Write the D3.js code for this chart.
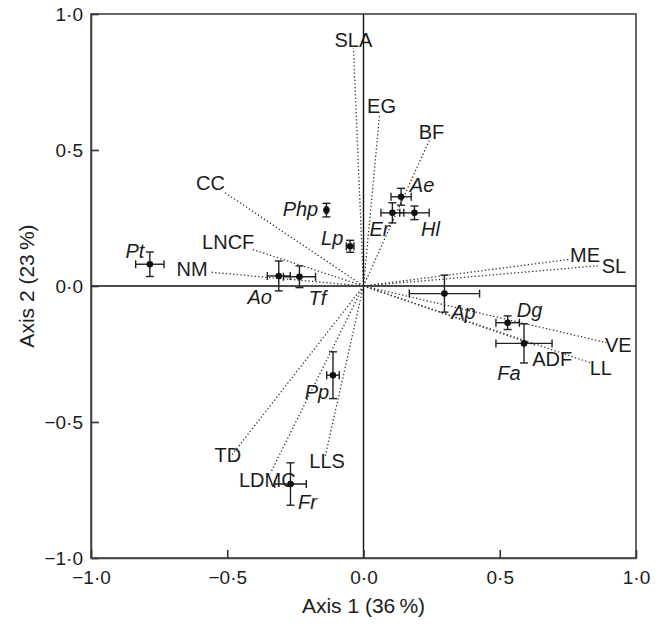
<!DOCTYPE html>
<html lang="en">
  <head>
    <meta charset="utf-8">
    <script src="https://d3js.org/d3.v7.min.js"></script>
    <title>PCA biplot</title>
    <style>
      body { margin: 0; background: #fff; }
      text { font-family: "Liberation Sans", Arial, Helvetica, sans-serif; fill: #1c1c1c; }
    </style>
  </head>
  <body>
    <svg id="chart"></svg>

    <script type="text/javascript">

     // species scores (mean and SE on both axes)
     var species = ["Pt", "Ao", "Tf", "Php", "Lp", "Er", "Ae", "Hl", "Ap", "Dg", "Fa", "Pp", "Fr"];
     var spX    = [-0.784, -0.311, -0.235, -0.136, -0.049, 0.106, 0.138, 0.187, 0.297, 0.529, 0.589, -0.112, -0.268];
     var spY    = [0.080, 0.037, 0.034, 0.279, 0.146, 0.269, 0.328, 0.269, -0.028, -0.135, -0.211, -0.328, -0.728];
     var spErrX = [0.052, 0.042, 0.059, 0.004, 0.014, 0.042, 0.037, 0.054, 0.129, 0.043, 0.103, 0.023, 0.058];
     var spErrY = [0.045, 0.055, 0.040, 0.025, 0.022, 0.037, 0.031, 0.025, 0.068, 0.025, 0.072, 0.086, 0.078];

     // trait vectors
     var traits = ["SLA", "EG", "BF", "CC", "LNCF", "NM", "ME", "SL", "VE", "LL", "ADF", "TD", "LDMC", "LLS"];
     var trX    = [-0.037, 0.059, 0.242, -0.514, -0.412, -0.563, 0.758, 0.868, 0.891, 0.838, 0.630, -0.483, -0.342, -0.141];
     var trY    = [0.874, 0.629, 0.537, 0.347, 0.136, 0.051, 0.098, 0.075, -0.208, -0.284, -0.217, -0.621, -0.689, -0.628];

     var tickValues = [-1, -0.5, 0, 0.5, 1];

     // label offsets in pixels (centre of capitals relative to the point / vector end)
     var spLabelOff = {
       Pt: [-15, -13], Ao: [-19, 21], Tf: [18, 21], Php: [-26, -1], Lp: [-18, -8],
       Er: [-13, 16], Ae: [21, -12], Hl: [16, 16], Ap: [19, 18], Dg: [22, -13],
       Fa: [-15, 30], Pp: [-16, 17], Fr: [17, 18]
     };
     var trLabelOff = {
       SLA: [0, -8], EG: [2, -9], BF: [2, -8], CC: [-13, -9], LNCF: [-23, -7],
       NM: [-18, -3], ME: [15, -4], SL: [14, 0], VE: [12, 2], LL: [9, 5],
       ADF: [17, 14], TD: [-4, 0], LDMC: [-3, 7], LLS: [2, 4]
     };

     var width = 663;
     var height = 624;
     var mLeft = 91, mRight = 636, mTop = 14, mBottom = 558;

     var svg = d3.select("#chart")
       .attr("width", width)
       .attr("height", height);

     var x = d3.scaleLinear().domain([-1, 1]).range([mLeft, mRight]);
     var y = d3.scaleLinear().domain([-1, 1]).range([mBottom, mTop]);

     var fmt = function(d)
     {
       return (d < 0 ? "\u2212" : "") + Math.abs(d).toFixed(1).replace(".", "\u00b7");
     };

     // frame
     svg.append("rect")
       .attr("x", mLeft)
       .attr("y", mTop)
       .attr("width", mRight - mLeft)
       .attr("height", mBottom - mTop)
       .attr("fill", "none")
       .attr("stroke", "#444")
       .attr("stroke-width", 1.6);

     // zero lines
     svg.append("line")
       .attr("x1", x(0)).attr("x2", x(0))
       .attr("y1", mTop).attr("y2", mBottom)
       .attr("stroke", "#111").attr("stroke-width", 1.4);
     svg.append("line")
       .attr("x1", mLeft).attr("x2", mRight)
       .attr("y1", y(0)).attr("y2", y(0))
       .attr("stroke", "#111").attr("stroke-width", 1.4);

     // axes with inward ticks
     var yAxis = svg.append("g")
       .attr("transform", "translate(" + mLeft + ",0)")
       .call(d3.axisLeft(y).tickValues(tickValues).tickFormat(fmt).tickSizeInner(-8).tickSizeOuter(0).tickPadding(8));
     var xAxis = svg.append("g")
       .attr("transform", "translate(0," + mBottom + ")")
       .call(d3.axisBottom(x).tickValues(tickValues).tickFormat(fmt).tickSizeInner(-8).tickSizeOuter(0).tickPadding(13));

     [xAxis, yAxis].forEach(function(g)
     {
       g.select(".domain").attr("stroke", "#444").attr("stroke-width", 1.6);
       g.selectAll(".tick line").attr("stroke", "#333").attr("stroke-width", 1.6);
       g.selectAll(".tick text")
         .attr("font-family", "Liberation Sans, Arial, sans-serif")
         .attr("font-size", 19)
         .attr("fill", "#1c1c1c");
     });

     // axis titles
     svg.append("text")
       .attr("x", x(0))
       .attr("y", 613)
       .attr("text-anchor", "middle")
       .attr("font-size", 21)
       .text("Axis 1 (36\u2009%)");
     svg.append("text")
       .attr("transform", "translate(34," + y(0) + ") rotate(-90)")
       .attr("text-anchor", "middle")
       .attr("font-size", 21)
       .text("Axis 2 (23\u2009%)");

     // trait vectors (dotted)
     svg.selectAll(".vec")
       .data(traits)
       .enter()
       .append("line")
       .attr("class", "vec")
       .attr("x1", x(0))
       .attr("y1", y(0))
       .attr("x2", function(d, i) { return x(trX[i]); })
       .attr("y2", function(d, i) { return y(trY[i]); })
       .attr("stroke", "#333")
       .attr("stroke-width", 1.3)
       .attr("stroke-dasharray", "1.3,2.3");

     svg.selectAll(".vecLabel")
       .data(traits)
       .enter()
       .append("text")
       .attr("class", "vecLabel")
       .attr("x", function(d, i) { return x(trX[i]) + trLabelOff[d][0]; })
       .attr("y", function(d, i) { return y(trY[i]) + trLabelOff[d][1] + 7; })
       .attr("text-anchor", "middle")
       .attr("font-size", 20)
       .text(function(d) { return d; });

     // species error bars
     var cap = 4;
     var bars = svg.selectAll(".sp")
       .data(species)
       .enter()
       .append("g")
       .attr("class", "sp")
       .attr("stroke", "#222")
       .attr("stroke-width", 1.4);

     bars.append("line")
       .attr("x1", function(d, i) { return x(spX[i] - spErrX[i]); })
       .attr("x2", function(d, i) { return x(spX[i] + spErrX[i]); })
       .attr("y1", function(d, i) { return y(spY[i]); })
       .attr("y2", function(d, i) { return y(spY[i]); });
     bars.append("line")
       .attr("x1", function(d, i) { return x(spX[i]); })
       .attr("x2", function(d, i) { return x(spX[i]); })
       .attr("y1", function(d, i) { return y(spY[i] - spErrY[i]); })
       .attr("y2", function(d, i) { return y(spY[i] + spErrY[i]); });

     // caps
     [-1, 1].forEach(function(s)
     {
       bars.append("line")
         .attr("x1", function(d, i) { return x(spX[i] + s * spErrX[i]); })
         .attr("x2", function(d, i) { return x(spX[i] + s * spErrX[i]); })
         .attr("y1", function(d, i) { return y(spY[i]) - cap; })
         .attr("y2", function(d, i) { return y(spY[i]) + cap; });
       bars.append("line")
         .attr("x1", function(d, i) { return x(spX[i]) - cap; })
         .attr("x2", function(d, i) { return x(spX[i]) + cap; })
         .attr("y1", function(d, i) { return y(spY[i] + s * spErrY[i]); })
         .attr("y2", function(d, i) { return y(spY[i] + s * spErrY[i]); });
     });

     bars.append("circle")
       .attr("cx", function(d, i) { return x(spX[i]); })
       .attr("cy", function(d, i) { return y(spY[i]); })
       .attr("r", 3.3)
       .attr("fill", "#111")
       .attr("stroke", "none");

     svg.selectAll(".spLabel")
       .data(species)
       .enter()
       .append("text")
       .attr("class", "spLabel")
       .attr("x", function(d, i) { return x(spX[i]) + spLabelOff[d][0]; })
       .attr("y", function(d, i) { return y(spY[i]) + spLabelOff[d][1] + 7; })
       .attr("text-anchor", "middle")
       .attr("font-size", 20)
       .attr("font-style", "italic")
       .text(function(d) { return d; });

    </script>
  </body>
</html>
